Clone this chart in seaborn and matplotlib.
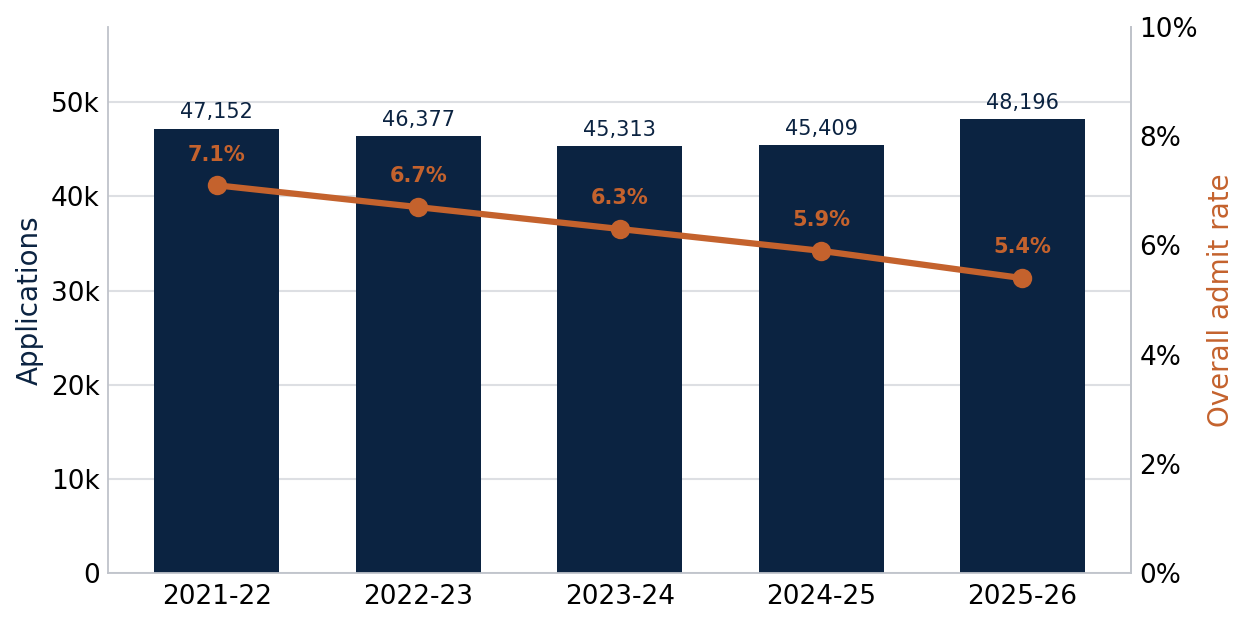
import matplotlib
matplotlib.use("Agg")
import matplotlib.pyplot as plt
import seaborn as sns
import pandas as pd
from matplotlib.ticker import FuncFormatter

# Data
years = ["2021-22", "2022-23", "2023-24", "2024-25", "2025-26"]
applications = [47152, 46377, 45313, 45409, 48196]
admit_rate = [7.1, 6.7, 6.3, 5.9, 5.4]

navy = "#0B2341"
orange = "#C4622D"
spine_gray = "#BFC3CA"

df = pd.DataFrame({"year": years, "applications": applications, "rate": admit_rate})

sns.set_style("white")
plt.rcParams["font.family"] = ["DejaVu Sans"]

fig, ax = plt.subplots(figsize=(12.5, 6.25), dpi=100)
fig.subplots_adjust(left=0.0865, right=0.905, top=0.957, bottom=0.083)

sns.barplot(data=df, x="year", y="applications", color=navy, width=0.62,
            saturation=1, linewidth=0, ax=ax, zorder=2)
ax.set_xlim(-0.54, 4.54)
ax.set_ylim(0, 58000)
ax.set_yticks([0, 10000, 20000, 30000, 40000, 50000])
ax.yaxis.set_major_formatter(FuncFormatter(lambda v, p: "0" if v == 0 else f"{int(v/1000)}k"))
ax.grid(axis="y", color="#DDDFE3", linewidth=1.5, zorder=0)
ax.set_axisbelow(True)
ax.set_xlabel("")
ax.set_ylabel("Applications", fontsize=20, color=navy, labelpad=5)
ax.tick_params(axis="both", labelsize=19, length=0, colors="black")
ax.tick_params(axis="x", pad=8)
ax.tick_params(axis="y", pad=6)

for i, v in enumerate(applications):
    ax.text(i, v + 700, f"{v:,}", ha="center", va="bottom", fontsize=15, color=navy)

for s in ["top"]:
    ax.spines[s].set_visible(False)
for s in ["left", "bottom", "right"]:
    ax.spines[s].set_color(spine_gray)
    ax.spines[s].set_linewidth(1.3)

ax2 = ax.twinx()
sns.lineplot(x=range(len(years)), y=admit_rate, ax=ax2, color=orange, linewidth=4.5,
             marker="o", markersize=14, markeredgewidth=0, zorder=3)
ax2.set_ylim(0, 10)
ax2.set_yticks([0, 2, 4, 6, 8, 10])
ax2.yaxis.set_major_formatter(FuncFormatter(lambda v, p: f"{int(v)}%"))
ax2.set_ylabel("Overall admit rate", fontsize=20, color=orange, labelpad=6)
ax2.tick_params(axis="y", labelsize=19, length=0, colors="black", pad=6)
ax2.grid(False)
for s in ["top", "left", "bottom"]:
    ax2.spines[s].set_visible(False)
ax2.spines["right"].set_color(spine_gray)
ax2.spines["right"].set_linewidth(1.3)

for i, r in enumerate(admit_rate):
    ax2.text(i, r + 0.38, f"{r}%", ha="center", va="bottom", fontsize=15,
             fontweight="bold", color=orange)

fig.savefig("out.png", dpi=100)
